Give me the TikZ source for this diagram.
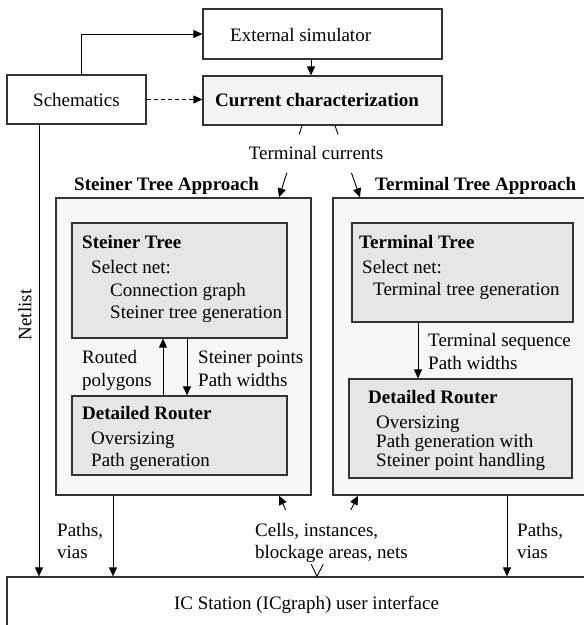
\documentclass[tikz,border=0pt]{standalone}
\usepackage{fontspec}
\setmainfont{Liberation Serif}
\usetikzlibrary{arrows.meta,calc}
\definecolor{ccfill}{HTML}{F4F4F4}
\definecolor{outfill}{HTML}{F7F7F7}
\definecolor{infill}{HTML}{E6E6E6}
\definecolor{edge}{HTML}{333333}
\tikzset{
  box/.style={draw=edge, line width=1.2pt, inner sep=0pt},
  txt/.style={inner sep=0pt, anchor=base west, font=\fontsize{19}{22}\selectfont},
  btxt/.style={txt, font=\fontsize{19}{22}\selectfont\bfseries},
  conn/.style={black, line width=0.9pt},
  arr/.style={conn, -{Triangle[length=9pt,width=8pt]}},
}
\begin{document}
\begin{tikzpicture}[x=1pt,y=-1pt]
\useasboundingbox (0,0) rectangle (584,625);
\clip (0,0) rectangle (584,625);
\node [box, minimum width=239pt, minimum height=50pt] (ext) at (322.5,34) {};
\node [txt] (exttxt) at (230,41) {External simulator};
\node [box, fill=ccfill, minimum width=239pt, minimum height=49pt] (cc) at (322.5,100.5) {};
\node [btxt] (cctxt) at (215,106) {Current characterization};
\node [box, minimum width=139pt, minimum height=49pt, font=\fontsize{19}{22}\selectfont] (sch) at (76.5,99.5) {Schematics};
\node [txt, anchor=base] (tclbl) at (316,159) {Terminal currents};
\node [btxt] (lttl) at (74,190) {Steiner Tree Approach};
\node [btxt] (rttl) at (375,190) {Terminal Tree Approach};
\node [box, line width=1.4pt, fill=outfill, minimum width=255pt, minimum height=297pt] (lbox) at (183.5,346.5) {};
\node [box, line width=1.4pt, fill=outfill, minimum width=267pt, minimum height=297pt] (rbox) at (466.5,346.5) {};
\node [box, fill=infill, minimum width=215pt, minimum height=115pt] (stree) at (179.5,280.5) {};
\node [btxt] (st1) at (82,248) {Steiner Tree};
\node [txt] (st2) at (91,273) {Select net:};
\node [txt] (st3) at (110,296) {Connection graph};
\node [txt] (st4) at (110,318) {Steiner tree generation};
\node [box, fill=infill, minimum width=215pt, minimum height=79pt] (sdr) at (179.5,435.5) {};
\node [btxt] (sd1) at (82,419) {Detailed Router};
\node [txt] (sd2) at (91,444) {Oversizing};
\node [txt] (sd3) at (91,466) {Path generation};
\node [txt] (rp1) at (82,363) {Routed};
\node [txt] (rp2) at (82,386) {polygons};
\node [txt] (sp1) at (198,363) {Steiner points};
\node [txt] (sp2) at (198,386) {Path widths};
\node [box, fill=infill, minimum width=221pt, minimum height=99pt] (ttree) at (462.5,272.5) {};
\node [btxt] (tt1) at (359,248) {Terminal Tree};
\node [txt] (tt2) at (362,273) {Select net:};
\node [txt] (tt3) at (373,295) {Terminal tree generation};
\node [txt] (ts1) at (428,346) {Terminal sequence};
\node [txt] (ts2) at (428,369) {Path widths};
\node [box, fill=infill, minimum width=223pt, minimum height=99pt] (tdr) at (460.5,428.5) {};
\node [btxt] (td1) at (368,403) {Detailed Router};
\node [txt] (td2) at (376,428) {Oversizing};
\node [txt] (td3) at (376,447) {Path generation with};
\node [txt] (td4) at (376,466) {Steiner point handling};
\node [box, minimum width=620pt, minimum height=100pt] (ic) at (317,627) {};
\node [txt, anchor=base] (ictxt) at (306.5,609) {IC Station (ICgraph) user interface};
\node [txt, anchor=center, rotate=90] (netlbl) at (25,315) {Netlist};
\node [txt] (pl1) at (57,536) {Paths,};
\node [txt] (pl2) at (57,558) {vias};
\node [txt] (pr1) at (517,536) {Paths,};
\node [txt] (pr2) at (517,558) {vias};
\node [txt] (cl1) at (255,536) {Cells, instances,};
\node [txt] (cl2) at (255,558) {blockage areas, nets};
\coordinate (tcl) at ([xshift=-20.5pt]cc.south);
\coordinate (tcr) at ([xshift=12.5pt]cc.south);
\coordinate (ltop) at ([xshift=95.5pt]lbox.north);
\coordinate (rtop) at ([xshift=-106.5pt]rbox.north);
\coordinate (lbot) at ([xshift=95.5pt]lbox.south);
\coordinate (rbot) at ([xshift=-108.5pt]rbox.south);
\draw [arr] ([xshift=4.5pt]sch.north) |- (ext.west);
\draw [arr] ([xshift=-11.5pt]ext.south) -- ([xshift=-11.5pt]cc.north);
\draw [arr, dash pattern=on 4pt off 3pt] (sch.east) -- (sch.east -| cc.west);
\draw [arr] ([xshift=-37.5pt]sch.south) -- ([xshift=-37.5pt]sch.south |- ic.north);
\draw [conn] (tcl) -- ($(tcl)!0.123!(ltop)$);
\draw [arr] ($(tcl)!0.658!(ltop)$) -- (ltop);
\draw [conn] (tcr) -- ($(tcr)!0.123!(rtop)$);
\draw [arr] ($(tcr)!0.658!(rtop)$) -- (rtop);
\draw [arr] ([xshift=-16.5pt]sdr.north) -- ([xshift=-16.5pt]stree.south);
\draw [arr] ([xshift=7.5pt]stree.south) -- ([xshift=7.5pt]sdr.north);
\draw [arr] ([xshift=-44.5pt]ttree.south) -- ([xshift=-44.5pt]ttree.south |- tdr.north);
\draw [arr] ([xshift=-70.5pt]lbox.south) -- ([xshift=-70.5pt]lbox.south |- ic.north);
\draw [arr] ([xshift=40.5pt]rbox.south) -- ([xshift=40.5pt]rbox.south |- ic.north);
\draw [conn] (ic.north) -- ($(ic.north)!0.15!(lbot)$);
\draw [arr] ($(ic.north)!0.825!(lbot)$) -- (lbot);
\draw [conn] (ic.north) -- ($(ic.north)!0.15!(rbot)$);
\draw [arr] ($(ic.north)!0.825!(rbot)$) -- (rbot);
\end{tikzpicture}
\end{document}
